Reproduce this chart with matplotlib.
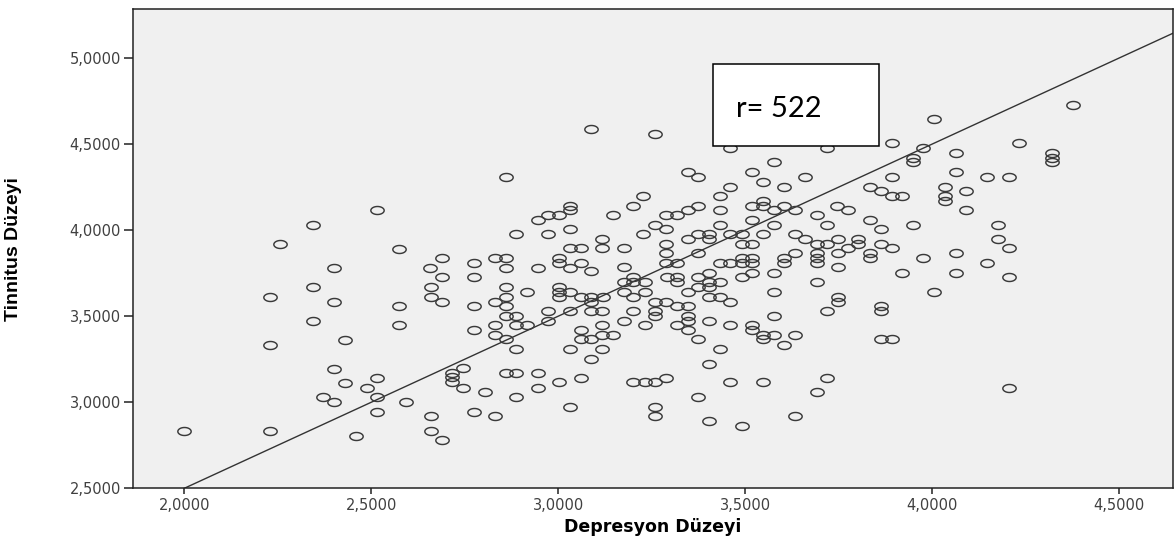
import numpy as np
import matplotlib
matplotlib.use("Agg")
import matplotlib.pyplot as plt
from matplotlib.path import Path
from matplotlib.patches import Rectangle
from matplotlib.ticker import FixedLocator, FuncFormatter

# ---- data ----
depresyon = [
    2.515, 2.344, 2.257, 2.573, 2.401, 2.344, 2.230, 2.401, 2.573, 2.344,
    2.573, 2.230, 2.430, 2.401, 2.515, 2.430, 2.488, 2.372, 2.401, 2.515,
    2.594, 2.515, 2.000, 2.230, 2.458,
    3.088, 2.861, 3.032, 3.032, 3.201, 3.227, 2.945, 2.974, 3.003, 3.146,
    2.888, 2.974, 3.032, 3.117, 3.227, 2.689, 2.658, 2.774, 2.832, 2.861,
    2.861, 2.945, 3.003, 3.003, 3.032, 3.061, 3.032, 3.061, 3.117, 3.175,
    3.175, 3.088,
    2.689, 2.774, 2.660, 2.660, 2.689, 2.774, 2.774, 2.832, 2.861, 2.861,
    2.861, 2.861, 2.888, 2.916, 2.832, 2.832, 2.888, 2.916, 2.861, 2.888,
    2.974, 2.974, 3.003, 3.003, 3.003, 3.032, 3.032, 3.061, 3.088, 3.088,
    3.120, 3.088, 3.117, 3.175, 3.201, 3.175, 3.201, 3.201, 3.175, 3.201,
    3.061, 3.061, 3.088, 3.117, 3.117, 3.146, 3.032, 3.117, 3.088, 2.745,
    2.716, 2.716, 2.716, 2.745, 2.861, 2.888, 2.945, 2.945, 3.003, 3.061,
    3.201, 2.803, 2.888, 3.032, 2.774, 2.660, 2.832, 2.660, 2.689,
    3.259, 3.460, 3.718, 3.576, 3.346, 3.375, 3.518, 3.547, 3.660, 3.460,
    3.604, 3.433, 3.834, 3.864, 3.547, 3.518, 3.547, 3.576, 3.604, 3.634,
    3.375, 3.346, 3.317, 3.289, 3.433, 3.745, 3.776, 3.692, 3.834, 3.518,
    3.433, 3.576, 3.718, 3.259, 3.289, 3.375, 3.404, 3.404, 3.346, 3.460,
    3.491, 3.547, 3.634, 3.660, 3.491, 3.518, 3.692, 3.718, 3.749, 3.803,
    3.803, 3.776, 3.289, 3.289, 3.375, 3.634, 3.749, 3.834, 3.834, 3.864,
    3.864, 3.289, 3.317, 3.433, 3.460, 3.491, 3.491, 3.518, 3.518, 3.604,
    3.604, 3.692, 3.692, 3.692, 3.749,
    3.233, 3.233, 3.290, 3.317, 3.317, 3.375, 3.404, 3.404, 3.404, 3.375,
    3.433, 3.348, 3.491, 3.518, 3.576, 3.576, 3.692, 3.749, 3.749, 3.718,
    3.864, 3.864, 3.864, 3.404, 3.433, 3.460, 3.259, 3.289, 3.317, 3.348,
    3.259, 3.259, 3.348, 3.348, 3.233, 3.317, 3.348, 3.404, 3.460, 3.518,
    3.518, 3.547, 3.547, 3.576, 3.634, 3.604, 3.576, 3.375, 3.433, 3.404,
    3.233, 3.259, 3.289, 3.460, 3.547, 3.718, 3.692, 3.375, 3.259, 3.259,
    3.404, 3.491, 3.634,
    4.378, 4.005, 3.892, 3.975, 4.233, 3.948, 3.948, 4.063, 4.320, 4.320,
    4.320, 3.892, 4.063, 4.148, 4.206, 4.035, 4.091, 4.035, 4.035, 3.892,
    3.919, 4.091, 3.948, 4.177, 4.177, 3.892, 4.206, 3.975, 4.063, 4.148,
    3.919, 4.063, 4.206, 4.005, 3.892, 4.206,
]
tinnitus = [
    4.116, 4.031, 3.919, 3.891, 3.779, 3.669, 3.612, 3.585, 3.558, 3.475,
    3.446, 3.335, 3.362, 3.196, 3.140, 3.112, 3.085, 3.029, 3.002, 3.029,
    3.002, 2.946, 2.835, 2.835, 2.806,
    4.587, 4.308, 4.141, 4.116, 4.141, 4.198, 4.060, 4.087, 4.087, 4.087,
    3.975, 3.975, 4.004, 3.948, 3.977, 3.837, 3.779, 3.810, 3.837, 3.837,
    3.779, 3.779, 3.837, 3.810, 3.894, 3.894, 3.779, 3.810, 3.894, 3.894,
    3.787, 3.762,
    3.725, 3.725, 3.670, 3.612, 3.585, 3.558, 3.419, 3.585, 3.670, 3.612,
    3.558, 3.502, 3.502, 3.640, 3.448, 3.391, 3.448, 3.448, 3.365, 3.308,
    3.529, 3.475, 3.670, 3.640, 3.612, 3.640, 3.529, 3.612, 3.612, 3.585,
    3.612, 3.529, 3.529, 3.696, 3.696, 3.640, 3.612, 3.529, 3.475, 3.729,
    3.419, 3.365, 3.365, 3.448, 3.391, 3.391, 3.308, 3.308, 3.252, 3.198,
    3.170, 3.144, 3.116, 3.085, 3.170, 3.170, 3.170, 3.085, 3.115, 3.141,
    3.115, 3.058, 3.031, 2.975, 2.946, 2.919, 2.919, 2.835, 2.779,
    4.560, 4.475, 4.475, 4.394, 4.339, 4.308, 4.339, 4.281, 4.308, 4.252,
    4.252, 4.198, 4.252, 4.227, 4.170, 4.141, 4.141, 4.116, 4.141, 4.116,
    4.141, 4.116, 4.087, 4.087, 4.116, 4.141, 4.116, 4.087, 4.060, 4.060,
    4.031, 4.031, 4.031, 4.031, 4.004, 3.977, 3.977, 3.948, 3.948, 3.977,
    3.977, 3.977, 3.977, 3.948, 3.920, 3.920, 3.920, 3.920, 3.948, 3.948,
    3.920, 3.894, 3.920, 3.865, 3.865, 3.865, 3.865, 3.865, 3.837, 4.006,
    3.920, 3.810, 3.810, 3.810, 3.810, 3.837, 3.810, 3.837, 3.810, 3.837,
    3.810, 3.865, 3.837, 3.810, 3.785,
    3.696, 3.640, 3.725, 3.725, 3.696, 3.725, 3.752, 3.696, 3.670, 3.670,
    3.696, 3.640, 3.725, 3.752, 3.752, 3.640, 3.696, 3.612, 3.585, 3.529,
    3.558, 3.529, 3.365, 3.612, 3.612, 3.585, 3.585, 3.585, 3.558, 3.558,
    3.529, 3.502, 3.502, 3.475, 3.448, 3.448, 3.419, 3.475, 3.448, 3.448,
    3.419, 3.391, 3.365, 3.391, 3.391, 3.335, 3.502, 3.365, 3.308, 3.225,
    3.115, 3.115, 3.141, 3.115, 3.115, 3.141, 3.058, 3.031, 2.975, 2.919,
    2.891, 2.862, 2.919,
    4.727, 4.644, 4.504, 4.477, 4.504, 4.420, 4.394, 4.448, 4.448, 4.420,
    4.394, 4.308, 4.337, 4.308, 4.308, 4.252, 4.225, 4.198, 4.170, 4.198,
    4.198, 4.115, 4.031, 4.031, 3.948, 3.894, 3.894, 3.837, 3.865, 3.810,
    3.752, 3.752, 3.725, 3.640, 3.365, 3.085,
]

x_ticks = [2.0, 2.5, 3.0, 3.5, 4.0, 4.5]
y_ticks = [2.5, 3.0, 3.5, 4.0, 4.5, 5.0]
x_label = "Depresyon Düzeyi"
y_label = "Tinnitus Düzeyi"
r_text = "r= 522"
fit_intercept = 0.5
fit_slope = 1.0

# ---- figure ----
W, H = 1174, 538
fig = plt.figure(figsize=(W / 100, H / 100), dpi=100)
fig.patch.set_facecolor("white")
ax = fig.add_axes([132.7 / W, (H - 488.3) / H, (1173.3 - 132.7) / W, (488.3 - 9) / H])
ax.set_facecolor("#F0F0F0")

xlim = (1.862, 4.645)
ylim = (2.5, 5.285)
ax.set_xlim(*xlim)
ax.set_ylim(*ylim)

# elliptical open-circle marker (reference is horizontally stretched)
t = np.linspace(0, 2 * np.pi, 60)
ell = Path(np.column_stack([np.cos(t), 0.6 * np.sin(t)]), closed=True)
ax.plot(depresyon, tinnitus, linestyle="none", marker=ell, markersize=9.6,
        markerfacecolor="none", markeredgecolor="#3a3a3a", markeredgewidth=1.05,
        zorder=3)

# fit line across the whole axes
xs = np.array(xlim)
ax.plot(xs, fit_intercept + fit_slope * xs, color="#333333", linewidth=1.0,
        zorder=2, clip_on=True)

# ticks
ax.xaxis.set_major_locator(FixedLocator(x_ticks))
ax.yaxis.set_major_locator(FixedLocator(y_ticks))
fmt = FuncFormatter(lambda v, p: f"{v:.4f}".replace(".", ","))
ax.xaxis.set_major_formatter(fmt)
ax.yaxis.set_major_formatter(fmt)
ax.tick_params(axis="x", direction="out", length=4.3, width=1.1, pad=3.0,
               labelsize=10.5, labelcolor="#404040", color="#222222",
               top=False)
ax.tick_params(axis="y", direction="out", length=6.5, width=1.1, pad=2,
               labelsize=10.5, labelcolor="#404040", color="#222222",
               right=False)
for lbl in ax.get_xticklabels() + ax.get_yticklabels():
    lbl.set_family("DejaVu Sans")

for s in ax.spines.values():
    s.set_color("#222222")
    s.set_linewidth(1.1)

ax.set_xlabel(x_label, fontsize=12.5, fontweight="bold", family="DejaVu Sans",
              labelpad=3)
ax.yaxis.set_label_coords(-(132.7 - 22) / (1173.3 - 132.7), 0.5)
ax.set_ylabel(y_label, fontsize=14, fontweight="bold",
              family=["Liberation Sans Narrow", "Liberation Sans"])

# r text box
ax.add_patch(Rectangle((0.558, 0.714), 0.1595, 0.171, transform=ax.transAxes,
                       facecolor="white", edgecolor="black", linewidth=1.1,
                       zorder=5))
ax.text(0.5795, 0.791, r_text, transform=ax.transAxes, fontsize=21,
        family=["Lato", "DejaVu Sans"], ha="left", va="center", color="black",
        zorder=6)

fig.savefig("out.png", dpi=100, facecolor="white")
